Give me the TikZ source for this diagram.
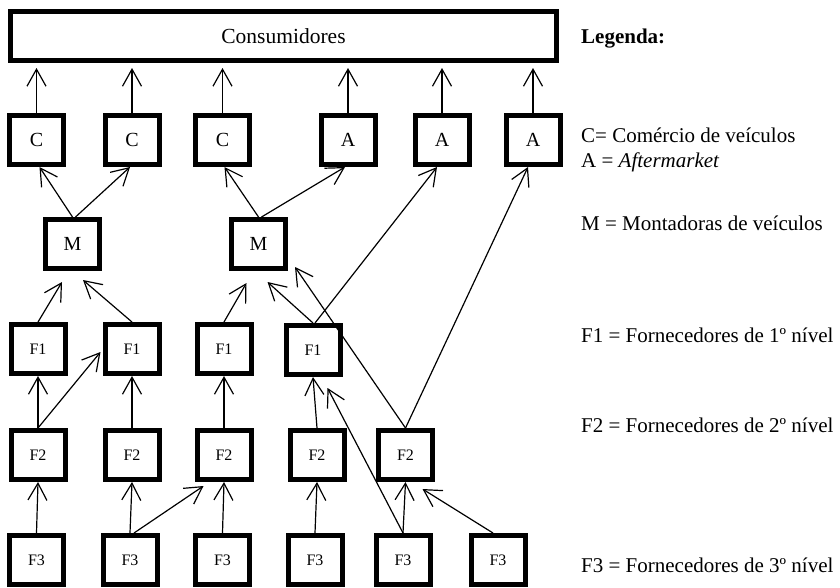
\documentclass[tikz,border=0pt]{standalone}
\usepackage{fontspec}
\setmainfont{Liberation Serif}
\usetikzlibrary{arrows.meta,calc}
\begin{document}
\begin{tikzpicture}[x=1pt,y=-1pt,
  box/.style={draw, line width=5pt, minimum width=54pt, minimum height=49pt, inner sep=0pt, fill=white, font=\fontsize{20}{24}\selectfont},
  flbox/.style={box, font=\fontsize{16}{19}\selectfont},
  arr/.style={line width=1.2pt, -{Straight Barb[length=17pt,width=19pt]}},
  leg/.style={anchor=base west, inner sep=0pt, font=\fontsize{21}{25}\selectfont}]
\fill[white] (0,0) rectangle (840,587);
\useasboundingbox (0,0) rectangle (840,587);
\clip (0,0) rectangle (840,587);

% top box
\node[box, minimum width=546pt, font=\fontsize{21.5}{25}\selectfont] (cons) at (283.5,36) {Consumidores};

% C / A row
\node[box] (C1) at (36.5,140) {C};
\node[box] (C2) at (132,140) {C};
\node[box] (C3) at (222.5,140) {C};
\node[box] (A1) at (348,140) {A};
\node[box] (A2) at (442,140) {A};
\node[box] (A3) at (533,140) {A};

% M row
\node[box] (M1) at (72.5,244) {M};
\node[box] (M2) at (258.5,244) {M};

% F1 row
\node[flbox] (F11) at (38,349) {F1};
\node[flbox] (F12) at (132,349) {F1};
\node[flbox] (F13) at (224,349) {F1};
\node[flbox] (F14) at (313,350) {F1};

% F2 row
\node[flbox] (F21) at (38,455) {F2};
\node[flbox] (F22) at (132,455) {F2};
\node[flbox] (F23) at (224,455) {F2};
\node[flbox] (F24) at (317,455) {F2};
\node[flbox] (F25) at (405.5,455) {F2};

% F3 row
\node[flbox] (F31) at (36.5,560) {F3};
\node[flbox] (F32) at (130,560) {F3};
\node[flbox] (F33) at (222.5,560) {F3};
\node[flbox] (F34) at (315,560) {F3};
\node[flbox] (F35) at (403,560) {F3};
\node[flbox] (F36) at (498,560) {F3};

% legend
\node[leg, font=\bfseries\fontsize{21}{25}\selectfont] (lg) at (581,43) {Legenda:};
\node[leg] (lc) at (581,142) {C= Comércio de veículos};
\node[leg] (la) at (581,167) {A = \textit{Aftermarket}};
\node[leg] (lm) at (581,230) {M = Montadoras de veículos};
\node[leg] (lf1) at (581,342) {F1 = Fornecedores de 1º nível};
\node[leg] (lf2) at (581,432) {F2 = Fornecedores de 2º nível};
\node[leg] (lf3) at (581,572) {F3 = Fornecedores de 3º nível};

% C/A -> Consumidores
\foreach \n in {C1,C2,C3,A1,A2,A3}
  \draw[arr, shorten >=5pt] (\n.north) -- (\n.north |- cons.south);

% M -> C/A
\draw[arr] (M1.north) -- ($(C1.south)+(3,0)$);
\draw[arr] ([xshift=3pt]M1.north) -- ($(C2.south)+(-2,0)$);
\draw[arr] (M2.north) -- ($(C3.south)+(2,0)$);
\draw[arr] ([xshift=3pt]M2.north) -- ($(A1.south)+(-3,0)$);

% long links to A
\draw[arr] ([xshift=2pt]F14.north) -- ($(A2.south)+(-5,0)$);
\draw[arr] (F25.north) -- ($(A3.south)+(-5,0)$);

% F1 -> M
\draw[arr] (F11.north) -- ($(M1.south)+(-10.5,11)$);
\draw[arr] (F12.north) -- ($(M1.south)+(10.5,9)$);
\draw[arr] (F13.north) -- ($(M2.south)+(-12,12)$);
\draw[arr] (F14.north) -- ($(M2.south)+(9,11)$);
\draw[arr] (F25.north) -- ($(M2.south east)+(7,-4)$);

% F2 -> F1
\draw[arr] (F21.north) -- (F11.south);
\draw[arr] (F21.north) -- ($(F12.west)+(-2,3)$);
\draw[arr] (F22.north) -- (F12.south);
\draw[arr] (F23.north) -- (F13.south);
\draw[arr] (F24.north) -- (F14.south);
\draw[arr] (F35.north) -- ($(F14.south east)+(-15,11)$);

% F3 -> F2
\draw[arr] (F31.north) -- (F21.south);
\draw[arr] (F32.north) -- (F22.south);
\draw[arr] ([xshift=4pt]F32.north) -- ($(F23.south west)+(9,4)$);
\draw[arr] (F33.north) -- (F23.south);
\draw[arr] (F34.north) -- (F24.south);
\draw[arr] (F35.north) -- (F25.south);
\draw[arr] ([xshift=-5pt]F36.north) -- ($(F25.south)+(17,7)$);
\end{tikzpicture}
\end{document}
